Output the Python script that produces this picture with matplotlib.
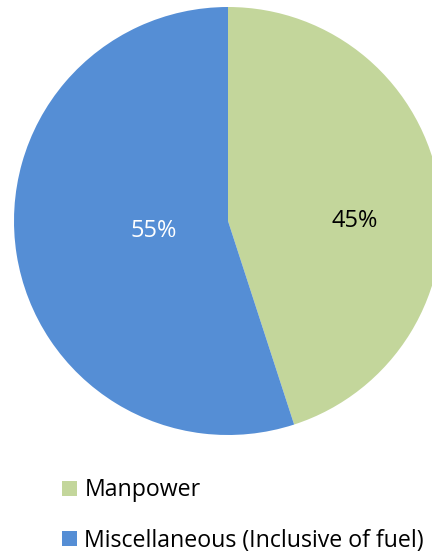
import numpy as np
import matplotlib.pyplot as plt

labels = ['Manpower', 'Miscellaneous (Inclusive of fuel)']
shares = [45, 55]
colors = ['#C3D69B', '#558ED5']
text_colors = ['black', 'white']
# where each percentage sits: fraction of radius, angle in degrees
label_dist = [0.59, 0.35]
label_angle = [0, 188]

W, H = 432, 555
plt.rcParams['font.family'] = ['Open Sans', 'DejaVu Sans']

fig = plt.figure(figsize=(W / 100, H / 100), dpi=100)
ax = fig.add_axes([0, 0, 1, 1])

# pie centre and radius in pixel units (y measured from bottom)
cx, cy, r = 228, H - 221, 214
wedges, texts, autotexts = ax.pie(
    shares, colors=colors, startangle=90, counterclock=False,
    center=(cx, cy), radius=r, autopct='%d%%',
    textprops={'fontsize': 17},
    wedgeprops={'linewidth': 0})
for t, c, d, a in zip(autotexts, text_colors, label_dist, label_angle):
    t.set_color(c)
    t.set_position((cx + d * r * np.cos(np.radians(a)),
                    cy + d * r * np.sin(np.radians(a))))

ax.set_xlim(0, W)
ax.set_ylim(0, H)
ax.set_aspect('equal')
ax.axis('off')

ax.legend(wedges, labels, loc='upper left', bbox_to_anchor=(53 / W, 1 - 469 / H),
          frameon=False, fontsize=16.7, handlelength=0.62, handleheight=0.62,
          handletextpad=0.33, labelspacing=1.15, borderaxespad=0)

fig.savefig('out.png', dpi=100)
